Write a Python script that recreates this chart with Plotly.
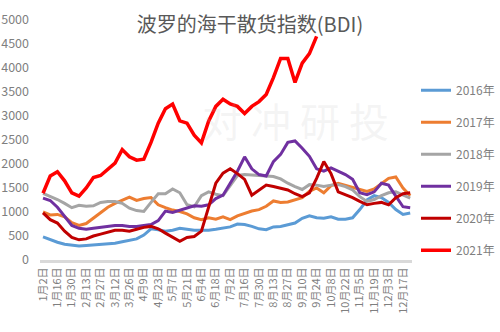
import plotly.graph_objects as go

# Weekly observation dates (same calendar for every year)
weeks = ["1月2日", "1月9日", "1月16日", "1月23日", "1月30日", "2月6日", "2月13日", "2月20日",
         "2月27日", "3月6日", "3月12日", "3月19日", "3月26日", "4月2日", "4月9日", "4月16日",
         "4月23日", "4月30日", "5月7日", "5月14日", "5月21日", "5月28日", "6月4日", "6月11日",
         "6月18日", "6月25日", "7月2日", "7月9日", "7月16日", "7月23日", "7月30日", "8月6日",
         "8月13日", "8月20日", "8月27日", "9月3日", "9月10日", "9月17日", "9月24日", "10月1日",
         "10月8日", "10月15日", "10月22日", "10月29日", "11月5日", "11月12日", "11月19日",
         "11月26日", "12月3日", "12月10日", "12月17日", "12月24日"]

bdi_2016 = [480, 420, 370, 330, 310, 290, 300, 310, 320, 340, 350, 380, 410, 440, 520, 650,
            630, 600, 620, 660, 640, 620, 620, 620, 640, 660, 690, 750, 740, 700, 650, 630,
            690, 700, 730, 770, 870, 920, 880, 870, 900, 850, 850, 880, 1050, 1250, 1340,
            1300, 1200, 1050, 950, 980]
bdi_2017 = [1000, 940, 950, 900, 780, 720, 760, 880, 1000, 1100, 1180, 1250, 1310, 1240, 1280,
            1300, 1150, 1090, 1040, 1010, 960, 880, 840, 880, 850, 900, 840, 920, 970, 1020,
            1050, 1120, 1230, 1200, 1210, 1250, 1300, 1430, 1500, 1400, 1550, 1600, 1560, 1520,
            1470, 1430, 1480, 1600, 1700, 1730, 1500, 1340]
bdi_2018 = [1390, 1330, 1260, 1180, 1090, 1140, 1120, 1130, 1200, 1220, 1220, 1180, 1080, 1030,
            1010, 1200, 1380, 1380, 1480, 1400, 1150, 1110, 1340, 1420, 1370, 1340, 1550, 1760,
            1780, 1770, 1750, 1740, 1740, 1690, 1600, 1530, 1470, 1570, 1560, 1530, 1560, 1570,
            1530, 1460, 1320, 1220, 1260, 1340, 1400, 1420, 1360, 1290]
bdi_2019 = [1290, 1240, 1100, 900, 720, 660, 640, 660, 680, 690, 720, 720, 700, 700, 720, 740,
            820, 1020, 990, 1040, 1090, 1130, 1120, 1150, 1280, 1350, 1600, 1850, 2150, 1900,
            1780, 1750, 2050, 2200, 2450, 2480, 2330, 2160, 1900, 1850, 1920, 1850, 1780, 1680,
            1400, 1360, 1420, 1600, 1560, 1330, 1110, 1090]
bdi_2020 = [980, 840, 770, 600, 470, 420, 440, 500, 540, 580, 620, 620, 600, 640, 680, 700,
            650, 560, 470, 390, 470, 490, 600, 1100, 1600, 1810, 1900, 1800, 1680, 1350, 1450,
            1560, 1530, 1500, 1460, 1380, 1320, 1400, 1700, 2050, 1800, 1420, 1360, 1300, 1220,
            1150, 1180, 1200, 1150, 1300, 1380, 1400]
bdi_2021 = [1390, 1750, 1840, 1650, 1400, 1330, 1500, 1720, 1760, 1900, 2020, 2300, 2150, 2080,
            2100, 2450, 2850, 3150, 3250, 2900, 2850, 2600, 2440, 2890, 3200, 3350, 3250, 3200,
            3050, 3200, 3300, 3450, 3800, 4200, 4200, 3700, 4100, 4300, 4660]

year_names = ["2016年", "2017年", "2018年", "2019年", "2020年", "2021年"]
year_series = [bdi_2016, bdi_2017, bdi_2018, bdi_2019, bdi_2020, bdi_2021]
year_colors = ["#5B9BD5", "#ED7D31", "#A5A5A5", "#7030A0", "#C00000", "#FF0000"]
year_widths = [3, 3, 3, 3, 3, 3.5]

# Every other week gets a tick label (two-week spacing)
tick_labels = weeks[::2]

fig = go.Figure()
for name, vals, color, w in zip(year_names, year_series, year_colors, year_widths):
    fig.add_trace(go.Scatter(
        x=weeks[:len(vals)], y=vals, name=name, mode="lines",
        line=dict(color=color, width=w, shape="linear"),
        legendgroup=name,
    ))

font_family = "Noto Sans CJK SC, Noto Sans, sans-serif"

fig.update_layout(
    width=500, height=332,
    margin=dict(l=40, r=88, t=20, b=72, autoexpand=False),
    paper_bgcolor="white", plot_bgcolor="white",
    font=dict(family=font_family, color="#7F7F7F", size=12),
    title=dict(text="波罗的海干散货指数(BDI)", x=0.5, xref="container", xanchor="center",
               y=0.925, yref="container", yanchor="middle",
               font=dict(size=20, color="#595959", family=font_family)),
    showlegend=True,
    legend=dict(x=0.832, xref="container", xanchor="left",
                y=0.772, yref="container", yanchor="top",
                maxheight=320,
                font=dict(size=12, color="#7F7F7F"), tracegroupgap=13,
                itemwidth=30, bgcolor="rgba(0,0,0,0)"),
    xaxis=dict(type="category", categoryorder="array", categoryarray=weeks,
               range=[-0.42, 51.25], tickmode="array", tickvals=tick_labels,
               ticktext=tick_labels, tickangle=-90, showgrid=False, zeroline=False,
               showline=True, linecolor="#D9D9D9", linewidth=3, ticks="",
               tickfont=dict(size=11, color="#7F7F7F")),
    yaxis=dict(range=[0, 5000], dtick=500, showgrid=False, zeroline=False,
               showline=False, ticks="", ticklabelstandoff=10,
               tickfont=dict(size=12.5, color="#7F7F7F")),
    annotations=[
        dict(text="对 冲 研 投", x=0.686, y=0.583, xref="paper", yref="paper",
             xanchor="center", yanchor="middle", showarrow=False,
             font=dict(size=40, color="rgba(190,190,190,0.16)", family=font_family)),
    ],
)

fig.write_html("out.html")
